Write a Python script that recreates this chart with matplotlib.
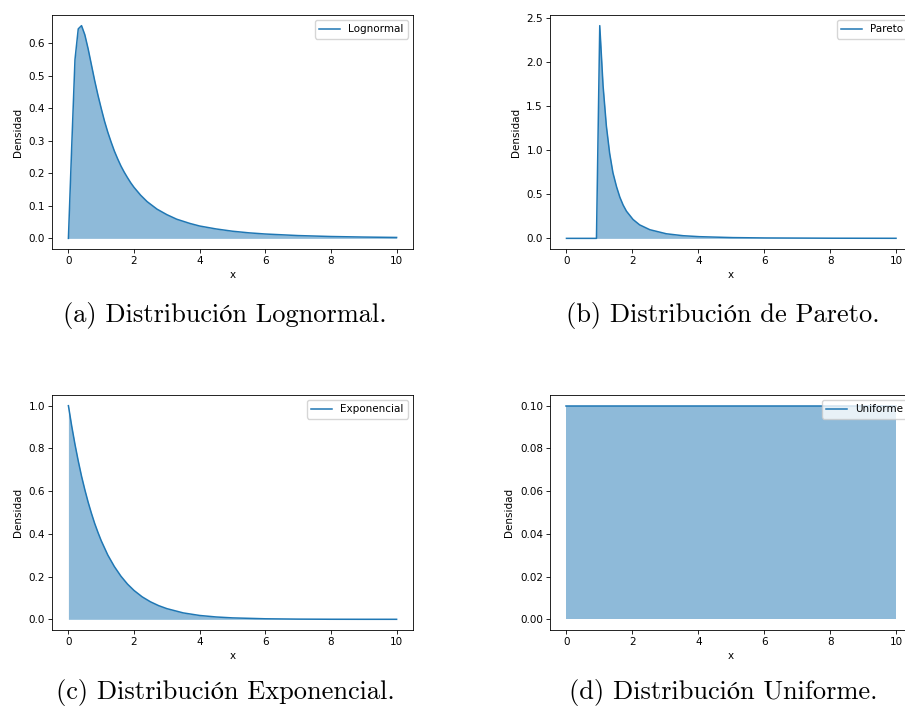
import matplotlib
matplotlib.use("Agg")
import matplotlib.pyplot as plt

# ---- data ----
logn_x = [0.0, 0.1, 0.2, 0.3, 0.4, 0.5, 0.6, 0.7, 0.8, 0.9, 1.0, 1.1, 1.2, 1.3,
          1.4, 1.5, 1.6, 1.7, 1.8, 1.9, 2.0, 2.2, 2.4, 2.7, 3.0, 3.3, 3.7, 4.0,
          4.5, 5.0, 5.5, 6.0, 7.0, 8.0, 9.0, 10.0]
logn_y = [0.0, 0.28, 0.55, 0.645, 0.655, 0.627, 0.584, 0.535, 0.486, 0.441, 0.40,
          0.361, 0.327, 0.297, 0.269, 0.245, 0.223, 0.204, 0.187, 0.171, 0.157,
          0.133, 0.113, 0.090, 0.073, 0.059, 0.046, 0.038, 0.029, 0.022, 0.017,
          0.0134, 0.0086, 0.0057, 0.0040, 0.0028]

par_x = [0.0, 0.91, 1.01, 1.11, 1.21, 1.31, 1.41, 1.52, 1.62, 1.72, 1.82, 2.02,
         2.22, 2.53, 3.03, 3.54, 4.04, 5.05, 6.06, 8.08, 10.0]
par_y = [0.0, 0.0, 2.41, 1.73, 1.275, 0.964, 0.743, 0.584, 0.466, 0.377, 0.308,
         0.214, 0.153, 0.098, 0.052, 0.030, 0.019, 0.0086, 0.0046, 0.0017, 0.0008]

exp_x = [0.0, 0.1, 0.2, 0.3, 0.4, 0.5, 0.6, 0.7, 0.8, 0.9, 1.0, 1.2, 1.4, 1.6,
         1.8, 2.0, 2.25, 2.5, 2.75, 3.0, 3.5, 4.0, 4.5, 5.0, 6.0, 7.0, 8.0, 9.0,
         10.0]
exp_y = [1.0, 0.905, 0.819, 0.741, 0.670, 0.607, 0.549, 0.497, 0.449, 0.407,
         0.368, 0.301, 0.247, 0.202, 0.165, 0.135, 0.105, 0.082, 0.064, 0.050,
         0.030, 0.018, 0.011, 0.0067, 0.0025, 0.0009, 0.0003, 0.0001, 0.00005]

uni_x = [0.0, 10.0]
uni_y = [0.1, 0.1]

labels = ["Lognormal", "Pareto", "Exponencial", "Uniforme"]
captions = ["(a) Distribución Lognormal.", "(b) Distribución de Pareto.",
            "(c) Distribución Exponencial.", "(d) Distribución Uniforme."]
x_ticks = [0, 2, 4, 6, 8, 10]
y_ticks = [[0.0, 0.1, 0.2, 0.3, 0.4, 0.5, 0.6],
           [0.0, 0.5, 1.0, 1.5, 2.0, 2.5],
           [0.0, 0.2, 0.4, 0.6, 0.8, 1.0],
           [0.00, 0.02, 0.04, 0.06, 0.08, 0.10]]
y_fmt = ["{:.1f}", "{:.1f}", "{:.1f}", "{:.2f}"]

series = [(logn_x, logn_y), (par_x, par_y), (exp_x, exp_y), (uni_x, uni_y)]

W, H = 905, 706
fig = plt.figure(figsize=(W / 100, H / 100), dpi=100)

# axes boxes in pixels: (left, top, right, bottom)
boxes = [(52, 15, 413, 249), (550, 15, 912.5, 249),
         (52, 395, 413, 630), (550, 395, 912.5, 630)]
cap_pos = [(225, 315), (723, 315), (225, 693), (723, 693)]

fs = 7.5
for i, (bx, (xs, ys)) in enumerate(zip(boxes, series)):
    l, t, r, b = bx
    ax = fig.add_axes([l / W, 1 - b / H, (r - l) / W, (b - t) / H])
    ax.plot(xs, ys, color="#1f77b4", lw=1.1, label=labels[i])
    ax.fill_between(xs, ys, color="#1f77b4", alpha=0.5, lw=0)
    ax.set_xticks(x_ticks)
    ax.set_yticks(y_ticks[i])
    ax.set_yticklabels([y_fmt[i].format(v) for v in y_ticks[i]])
    ax.tick_params(labelsize=fs, length=2.6, width=0.6, pad=2.5)
    ax.set_xlabel("x", fontsize=fs, labelpad=3)
    ax.set_ylabel("Densidad", fontsize=fs, labelpad=4)
    for s in ax.spines.values():
        s.set_linewidth(0.6)
    ax.legend(loc="upper right", fontsize=fs, handlelength=2.0,
              borderpad=0.4, framealpha=0.8, edgecolor="#cccccc", fancybox=True)
    cx, cy = cap_pos[i]
    fig.text(cx / W, 1 - cy / H, captions[i], ha="center", va="center",
             fontsize=19, family=["cmr10", "STIXGeneral", "DejaVu Serif"])

fig.savefig("out.png", dpi=100)
